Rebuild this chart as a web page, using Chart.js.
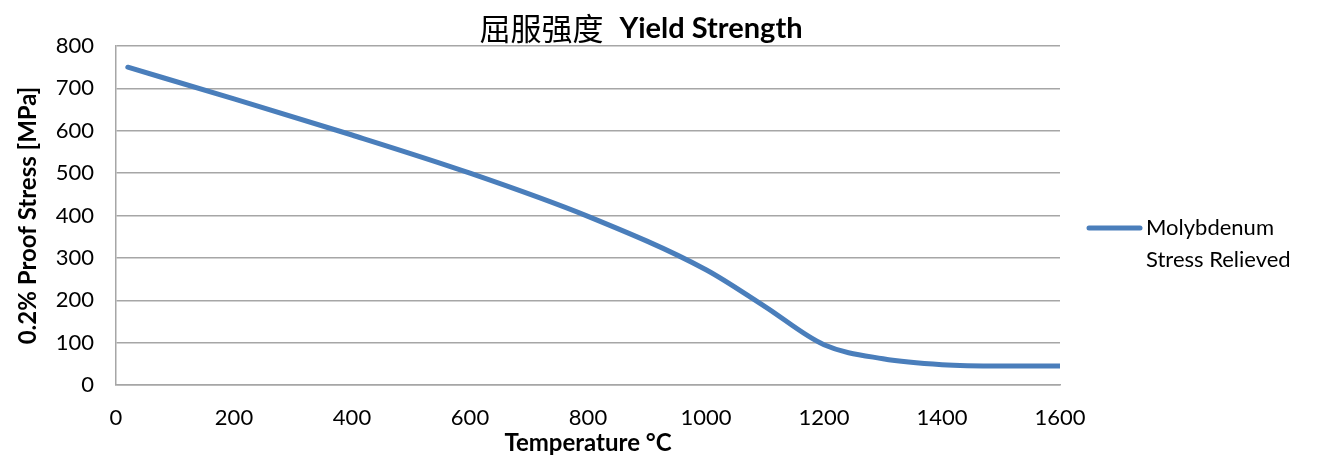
<!DOCTYPE html>
<html>
<head>
<meta charset="utf-8">
<script src="https://cdn.jsdelivr.net/npm/chart.js@4/dist/chart.umd.min.js"></script>
<style>
  html, body { margin: 0; padding: 0; background: #fff; }
  #wrap { width: 1320px; height: 458px; }
</style>
</head>
<body>
<div id="wrap"><canvas id="chart" width="1320" height="458"></canvas></div>
<script>
// Temperature (°C) vs 0.2% proof stress (MPa)
const temperatures = [20, 200, 400, 600, 800, 1000, 1100, 1200, 1300, 1400, 1500, 1600];
const proofStress = [750, 675, 590, 500, 398, 272, 185, 95, 62, 48, 45, 45];
const seriesLabel = ['Molybdenum', 'Stress Relieved'];
const chartTitle = ['屈服强度', 'Yield Strength'];

const FONT = 'Lato, "Noto Sans CJK SC", sans-serif';
const GRID = '#a6a6a6';
const BLUE = '#4a7ebb';

// title + two-line legend are drawn by hand (Excel-style)
const decorations = {
    id: 'decorations',
    afterDraw(chart) {
        const ctx = chart.ctx;
        const area = chart.chartArea;
        ctx.save();
        ctx.fillStyle = '#000';
        ctx.textBaseline = 'middle';
        // title
        const cjkFont = '31px "Noto Sans CJK SC", sans-serif';
        const latFont = 'bold 29px ' + FONT;
        ctx.font = cjkFont;
        const w1 = ctx.measureText(chartTitle[0]).width;
        ctx.font = latFont;
        const gap = 16;
        const w2 = ctx.measureText(chartTitle[1]).width;
        let x = 641 - (w1 + gap + w2) / 2;
        ctx.textAlign = 'left';
        ctx.font = cjkFont;
        ctx.fillText(chartTitle[0], x, 28);
        ctx.font = latFont;
        ctx.fillText(chartTitle[1], x + w1 + gap, 29);
        // legend
        const ly = 228;
        ctx.strokeStyle = BLUE;
        ctx.lineWidth = 5;
        ctx.lineCap = 'round';
        ctx.beginPath();
        ctx.moveTo(area.right + 29, ly);
        ctx.lineTo(area.right + 80, ly);
        ctx.stroke();
        ctx.font = '22px ' + FONT;
        ctx.fillText(seriesLabel[0], area.right + 86, ly);
        ctx.fillText(seriesLabel[1], area.right + 86, ly + 32);
        ctx.restore();
    }
};

const ctx = document.getElementById('chart').getContext('2d');
const chart = new Chart(ctx, {
    type: 'line',
    data: {
        datasets: [{
            label: seriesLabel.join(' '),
            data: temperatures.map((t, i) => ({ x: t, y: proofStress[i] })),
            borderColor: BLUE,
            borderWidth: 5,
            borderCapStyle: 'round',
            pointRadius: 0,
            cubicInterpolationMode: 'monotone',
            fill: false
        }]
    },
    options: {
        responsive: false,
        animation: false,
        layout: { padding: { top: 46, right: 260, left: 0, bottom: 0 } },
        plugins: {
            legend: { display: false },
            title: { display: false },
            tooltip: { enabled: false }
        },
        scales: {
            x: {
                type: 'linear',
                min: 0,
                max: 1600,
                ticks: { stepSize: 200, color: '#000', font: { family: FONT, size: 22 }, padding: 20, maxRotation: 0,
                         callback: v => String(v) },
                grid: { display: false, drawTicks: false },
                border: { color: GRID, width: 1.5 },
                title: { display: true, text: 'Temperature °C', color: '#000', font: { family: FONT, size: 24, weight: 'bold' }, padding: 0 },
                afterFit: s => { s.height = 73; }
            },
            y: {
                min: 0,
                max: 800,
                ticks: { stepSize: 100, color: '#000', font: { family: FONT, size: 22 }, padding: 22,
                         callback: v => String(v) },
                grid: { color: GRID, lineWidth: 1.5, drawTicks: false },
                border: { color: GRID, width: 1.5 },
                title: { display: true, text: '0.2% Proof Stress [MPa]', color: '#000', font: { family: FONT, size: 24, weight: 'bold' }, padding: { top: 14, bottom: 0 } },
                afterFit: s => { s.width = 116; }
            }
        }
    },
    plugins: [decorations]
});
</script>
</body>
</html>
